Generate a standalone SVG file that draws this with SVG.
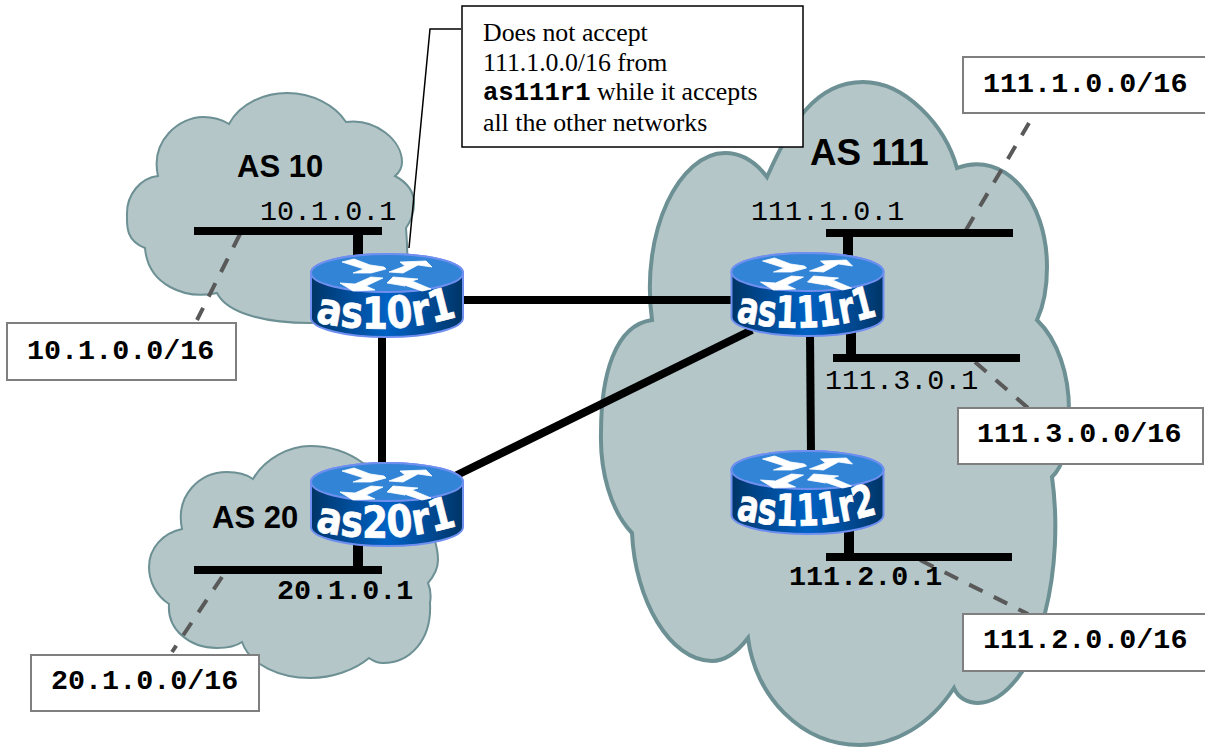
<svg xmlns="http://www.w3.org/2000/svg" width="1205" height="747" viewBox="0 0 1205 747">
<style>
.cloud{fill:#b4c6c8;stroke:#6c9094}
.lnk{stroke:#000;stroke-width:8;fill:none}
.net{stroke:#000;stroke-width:8;fill:none}
.stub{stroke:#000;stroke-width:10;fill:none}
.dash{stroke:#595959;stroke-width:4;stroke-dasharray:15 12.500;fill:none}
.box{fill:#fff;stroke:#7f7f7f;stroke-width:2}
.mono{font-family:"Liberation Mono",monospace;font-size:28.400px;fill:#000}
.b{font-weight:bold}
.as{font-family:"Liberation Sans",Arial,sans-serif;font-weight:bold;fill:#000}
.note{font-family:"Liberation Serif","Times New Roman",serif;font-size:25.800px;fill:#000}
.nm{font-family:"Liberation Mono",monospace;font-weight:bold;font-size:25.600px}
.rt{font-family:"DejaVu Sans",sans-serif;font-weight:bold;font-size:44px;fill:#fff;stroke:#fff;stroke-width:0.700}
</style>
<defs>
<linearGradient id="side" x1="0" x2="1" y1="0" y2="0">
<stop offset="0" stop-color="#003566"/><stop offset="0.18" stop-color="#00468c"/><stop offset="0.5" stop-color="#0062c4"/><stop offset="0.82" stop-color="#00468c"/><stop offset="1" stop-color="#003566"/>
</linearGradient>
<path id="arc" d="M-72 68 Q0 84 72 62"/>
<g id="router">
<path d="M-76 19 V64 A76 19 0 0 0 76 64 V19 A76 19 0 0 0 -76 19 Z" fill="url(#side)" stroke="#6f8ff0" stroke-width="2"/>
<ellipse cx="0" cy="19" rx="76" ry="19" fill="#3184d6" stroke="#6f8ff0" stroke-width="2"/>
<g fill="#fff" stroke="#fff" stroke-width="0.800" stroke-linejoin="round">
<polygon points="-45,8 -33,5 -17,11 -3,13 -1,15 -16,19 -34,19 -23,15"/>
<polygon points="2,18 18,12 13,8 39,7 45,13 31,11 16,19"/>
<polygon points="-4,24 -21,32 -12,36 -34,37 -47,29 -32,30 -16,23"/>
<polygon points="0,29 6,23 31,25 25,27 44,35 35,37 14,30 18,32"/>
</g>
</g>
</defs>

<g id="as111-cloud"><path class="cloud" stroke-width="4" d="M767 177 C790 125 815 82 863 82 C905 82 945 125 957 168 C1005 150 1047 200 1047 267 C1047 285 1044 305 1037 320 C1058 340 1069 375 1069 410 C1069 440 1065 465 1052 477 C1058 520 1056 570 1045 613 C1035 665 1005 703 978 703 C968 703 958 698 954 688 C930 725 895 745 860 745 C800 745 755 695 748 638 C735 655 722 661 712 661 C670 661 635 600 632 533 C610 510 600 470 601 433 C601 375 615 325 652 320 C640 230 680 153 725 153 C745 153 758 165 767 177 Z"/></g>
<g id="as10-cloud"><path class="cloud" stroke-width="2" d="M229 124 C240 103 265 93 287 93 C312 93 335 105 346 122 C375 118 402 140 402 162 C402 167 400 172 395 176 C408 183 414 193 414 203 C414 212 411 221 406 228 C407 240 408 255 407 275 C395 310 350 323 310 323 C270 323 228 315 217 293 C185 300 148 285 145 248 C125 240 127 225 127 213 C127 195 140 178 158 176 C150 140 180 117 203 117 C212 117 221 119 229 124 Z"/></g>
<g id="as20-cloud"><path class="cloud" stroke-width="2" d="M253 479 C265 458 290 446 310 446 C335 446 352 455 363 463 C400 470 420 490 425 515 C432 530 438 545 438 560 C438 568 434 576 428 583 C431 590 431 597 430 603 C432 640 410 663 383 663 C377 663 373 661 369 658 C355 670 332 678 310 678 C280 678 250 665 242 642 C235 647 226 648 217 648 C190 648 167 630 169 604 C155 595 149 580 149 567 C149 548 163 533 182 529 C175 495 200 472 227 472 C237 472 246 474 253 479 Z"/></g>

<g id="connectors">
<path class="dash" d="M240 234 L197 320"/>
<path class="dash" d="M222 577 L172 652"/>
<path class="dash" d="M966 230 L1029 123"/>
<path class="dash" d="M975 362 L1028 408"/>
<path class="dash" d="M920 560 L1028 614"/>
<path class="net" d="M194 231 H382"/>
<path class="net" d="M194 570 H382"/>
<path class="net" d="M826 233 H1013"/>
<path class="net" d="M833 358 H1020"/>
<path class="net" d="M826 557 H1012"/>
<path class="stub" d="M358 231 V258"/>
<path class="stub" d="M358 540 V570"/>
<path class="stub" d="M848 233 V258"/>
<path class="stub" d="M851 332 V358"/>
<path class="stub" d="M849 528 V557"/>
<path class="lnk" d="M460 300 H735"/>
<path class="lnk" d="M382 334 V466"/>
<path class="lnk" d="M455 476 L752 330"/>
<path class="lnk" d="M810 334 L811 454"/>
<path d="M461 29 H430 L409 248" fill="none" stroke="#000" stroke-width="1.5"/>
</g>

<g id="as10r1"><use href="#router" x="387" y="254"/><g transform="translate(387 254)"><text class="rt"><textPath href="#arc" textLength="144" lengthAdjust="spacingAndGlyphs">as10r1</textPath></text></g></g>
<g id="as111r1"><use href="#router" x="807.500" y="253"/><g transform="translate(807.500 253)"><text class="rt"><textPath href="#arc" textLength="144" lengthAdjust="spacingAndGlyphs">as111r1</textPath></text></g></g>
<g id="as111r2"><use href="#router" x="807.500" y="451"/><g transform="translate(807.500 451)"><text class="rt"><textPath href="#arc" textLength="144" lengthAdjust="spacingAndGlyphs">as111r2</textPath></text></g></g>
<g id="as20r1"><use href="#router" x="387" y="463"/><g transform="translate(387 463)"><text class="rt"><textPath href="#arc" textLength="144" lengthAdjust="spacingAndGlyphs">as20r1</textPath></text></g></g>

<g id="labels">
<text class="as" font-size="31" x="237" y="177">AS 10</text>
<text class="as" font-size="31" x="212" y="528">AS 20</text>
<text class="as" font-size="36.800" x="810" y="165">AS 111</text>
<text class="mono" x="260" y="220">10.1.0.1</text>
<text class="mono b" x="277" y="599">20.1.0.1</text>
<text class="mono" x="751" y="220">111.1.0.1</text>
<text class="mono" x="825" y="389">111.3.0.1</text>
<text class="mono b" x="789" y="585">111.2.0.1</text>
</g>

<g id="net-10"><rect class="box" x="7" y="323" width="229" height="57"/><text class="mono b" x="27" y="359">10.1.0.0/16</text></g>
<g id="net-20"><rect class="box" x="31" y="655" width="228" height="56"/><text class="mono b" x="51" y="689">20.1.0.0/16</text></g>
<g id="net-111-1"><rect class="box" x="963" y="57" width="244" height="56"/><text class="mono b" x="983" y="92">111.1.0.0/16</text></g>
<g id="net-111-3"><rect class="box" x="958" y="408" width="245" height="56"/><text class="mono b" x="977" y="442">111.3.0.0/16</text></g>
<g id="net-111-2"><rect class="box" x="963" y="614" width="244" height="57"/><text class="mono b" x="983" y="648">111.2.0.0/16</text></g>

<g id="note"><rect x="462" y="6" width="341" height="141" fill="#fff" stroke="#000" stroke-width="1.5"/>
<text class="note" x="483" y="41">Does not accept</text>
<text class="note" x="483" y="71">111.1.0.0/16 from</text>
<text class="note" x="483" y="100"><tspan class="nm">as111r1</tspan> while it accepts</text>
<text class="note" x="483" y="131">all the other networks</text></g>
</svg>
